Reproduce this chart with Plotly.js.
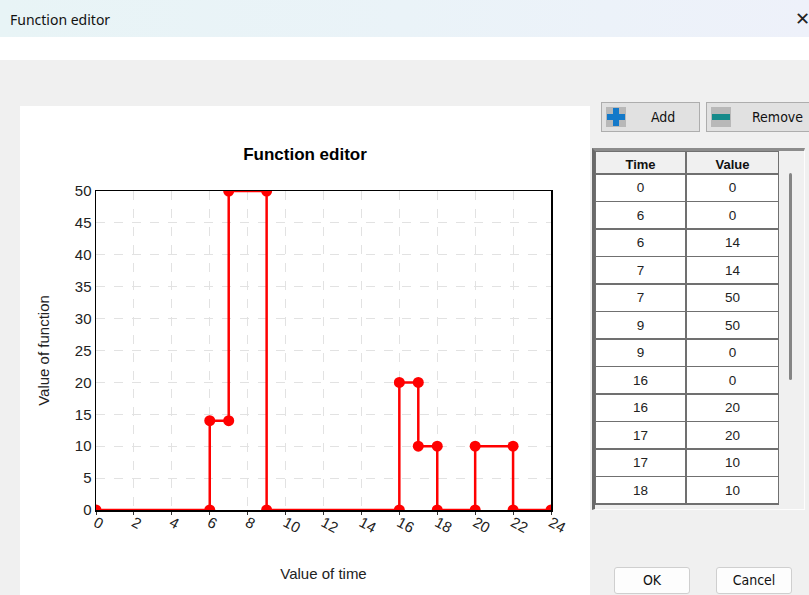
<!DOCTYPE html>
<html>
<head>
<meta charset="utf-8">
<script src="https://cdn.plot.ly/plotly-3.0.1.min.js"></script>
<style>
  html, body { margin:0; padding:0; width:809px; height:595px; overflow:hidden; background:#f0f0f0; font-family:"Liberation Sans", Arial, sans-serif; }
  .abs { position:absolute; }
  #titlebar { left:0; top:0; width:809px; height:37px; background:linear-gradient(90deg,#e8f4f6 0%,#eaf3f8 50%,#eef1fa 100%); }
  #titletext { left:10px; top:10px; font-family:"Noto Sans","Open Sans",sans-serif; font-size:14px; color:#111; }
  #closex { left:795px; top:6px; font-family:"Noto Sans",sans-serif; font-size:18px; color:#222; }
  #band { left:0; top:37px; width:809px; height:23px; background:#ffffff; }
  #panel { left:20px; top:106px; width:570px; height:489px; background:#ffffff; }
  .btn { background:#e1e1e1; border:1px solid #adadad; box-sizing:border-box; font-family:"Liberation Sans Narrow","DejaVu Sans Condensed","Liberation Sans",sans-serif; font-size:14px; color:#111; }
  #frame { left:592px; top:148px; width:213px; height:362px; box-sizing:border-box; border-left:3px solid #6a6a6a; border-top:3px solid #8c8c8c; border-right:1px solid #fdfdfd; border-bottom:1px solid #fdfdfd; background:#f0f0f0; }
  #thumb { left:789px; top:173px; width:3px; height:207px; background:#858585; border-radius:2px; }
</style>
</head>
<body>
<div id="titlebar" class="abs"></div>
<div id="titletext" class="abs">Function editor</div>
<div id="closex" class="abs">✕</div>
<div id="band" class="abs"></div>
<div id="panel" class="abs"></div>

<div class="abs btn" style="left:601px;top:102px;width:99px;height:30px;">
  <div class="abs" style="left:4px;top:4px;width:20px;height:20px;background:#b8b8b8;"></div>
  <div class="abs" style="left:11px;top:5px;width:6px;height:18px;background:#1479c9;"></div>
  <div class="abs" style="left:5px;top:11px;width:18px;height:6px;background:#1479c9;"></div>
  <span class="abs" style="left:49px;top:6px;">Add</span>
</div>
<div class="abs btn" style="left:706px;top:102px;width:110px;height:30px;">
  <div class="abs" style="left:4px;top:4px;width:20px;height:20px;background:#b8b8b8;"></div>
  <div class="abs" style="left:5px;top:11px;width:18px;height:6px;background:#168a8a;"></div>
  <span class="abs" style="left:45px;top:6px;">Remove</span>
</div>

<div id="frame" class="abs"></div>
<div id="thumb" class="abs"></div>
<div id="tbl" class="abs" style="left:595px;top:151px;width:184px;height:355px;"></div>

<div class="abs btn" style="left:614px;top:567px;width:76px;height:27px;border-radius:3px;background:#fdfdfd;border-color:#cfcfcf;text-align:center;line-height:25px;">OK</div>
<div class="abs btn" style="left:716px;top:567px;width:76px;height:27px;border-radius:3px;background:#fdfdfd;border-color:#cfcfcf;text-align:center;line-height:25px;">Cancel</div>

<div id="chart" class="abs" style="left:20px;top:106px;width:570px;height:489px;"></div>

<script>
// ---- data ----
const times  = [0, 6, 6, 7, 7, 9, 9, 16, 16, 17, 17, 18, 18, 20, 20, 22, 22, 24];
const values = [0, 0, 14, 14, 50, 50, 0, 0, 20, 20, 10, 10, 0, 0, 10, 10, 0, 0];
const xTickVals = [0, 2, 4, 6, 8, 10, 12, 14, 16, 18, 20, 22, 24];
const yTickVals = [0, 5, 10, 15, 20, 25, 30, 35, 40, 45, 50];
const columnNames = ["Time", "Value"];
const visibleRows = 12;   // rows shown in the scrolled table view
const chartTitle = "Function editor";
const xTitle = "Value of time";
const yTitle = "Value of function";

const font = "Liberation Sans, Arial, sans-serif";

Plotly.newPlot('chart', [{
  type: 'scatter',
  mode: 'lines+markers',
  x: times,
  y: values,
  line: { color: '#ff0000', width: 2.5 },
  marker: { color: '#ff0000', size: 11 },
  cliponaxis: true,
  hoverinfo: 'skip'
}], {
  width: 570, height: 489,
  margin: { l: 76, r: 39, t: 85, b: 85 },
  paper_bgcolor: 'rgba(0,0,0,0)',
  plot_bgcolor: '#ffffff',
  showlegend: false,
  title: { text: '<b>' + chartTitle + '</b>', x: 0.5, xref: 'container', y: 0.902, yanchor: 'middle', font: { family: font, size: 17, color: '#000' } },
  xaxis: {
    range: [0, 24], tickvals: xTickVals, ticktext: xTickVals.map(String), tickangle: 28,
    showgrid: true, gridcolor: '#e2e2e2', griddash: 'dash', gridwidth: 1,
    showline: true, linecolor: '#000', linewidth: 1.5, mirror: true,
    ticks: 'outside', ticklen: 3, tickcolor: '#333',
    ticklabelstandoff: -6,
    zeroline: false,
    tickfont: { family: font, size: 15, color: '#222' },
    title: { text: xTitle, standoff: 33, font: { family: font, size: 15, color: '#222' } }
  },
  yaxis: {
    range: [0, 50], tickvals: yTickVals, ticktext: yTickVals.map(String),
    showgrid: true, gridcolor: '#e2e2e2', griddash: 'dash', gridwidth: 1,
    showline: true, linecolor: '#000', linewidth: 1.5, mirror: true,
    ticks: '', zeroline: false,
    tickfont: { family: font, size: 15, color: '#222' },
    title: { text: yTitle, standoff: 21, font: { family: font, size: 15, color: '#222' } }
  }
}, { staticPlot: true, displayModeBar: false });

Plotly.newPlot('tbl', [{
  type: 'table',
  columnwidth: [89, 91],
  domain: { x: [0, 1], y: [0, 1] },
  header: {
    values: columnNames,
    height: 23,
    fill: { color: '#f0f0f0' },
    line: { color: '#707070', width: 1.5 },
    align: 'center',
    font: { family: font, size: 13, weight: 700, color: '#111' }
  },
  cells: {
    values: [times.slice(0, visibleRows).map(String), values.slice(0, visibleRows).map(String)],
    height: 27.5,
    fill: { color: '#ffffff' },
    line: { color: '#707070', width: 1.5 },
    align: 'center',
    font: { family: font, size: 13.5, color: '#222' }
  }
}], {
  width: 184, height: 355,
  margin: { l: 0, r: 0, t: 0, b: 0 },
  paper_bgcolor: 'rgba(0,0,0,0)'
}, { displayModeBar: false });
</script>
</body>
</html>
